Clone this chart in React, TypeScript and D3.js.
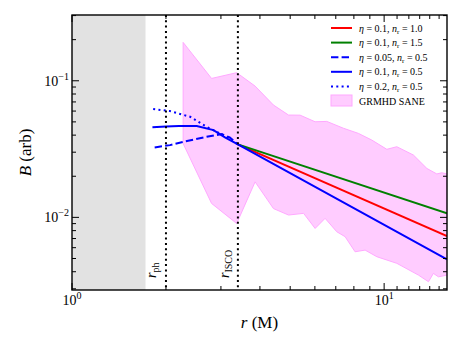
import * as d3 from "d3";

// --- data ---
const rPh = 2.0;
const rIsco = 3.4;
const rHorizonShade = 1.72;

// GRMHD SANE band (upper / lower envelopes)
const bandUpperR = [2.27, 2.8, 3.37, 3.86, 4.42, 4.94, 5.38, 6.01, 6.55, 7.41, 8.27, 9.13, 10.2, 10.98, 12.41, 13.71, 14.75, 15.3, 15.9];
const bandUpperB = [0.191, 0.104, 0.1146, 0.0914, 0.0664, 0.0561, 0.056, 0.0501, 0.0504, 0.0449, 0.0412, 0.0368, 0.0315, 0.0329, 0.0286, 0.0228, 0.0208, 0.0212, 0.0208];
const bandLowerR = [2.27, 2.8, 3.37, 3.86, 4.42, 4.94, 5.52, 6.01, 6.47, 7.05, 7.5, 8.07, 8.69, 9.48, 10.98, 12.88, 13.87, 14.38, 14.93, 15.9];
const bandLowerB = [0.0347, 0.01265, 0.00902, 0.0182, 0.0116, 0.0104, 0.0107, 0.0083, 0.00984, 0.00785, 0.00722, 0.0056, 0.00576, 0.00515, 0.00461, 0.00378, 0.00338, 0.00389, 0.00367, 0.00378];

// models
const redR = [3.4, 15.9];
const redB = [0.0342, 0.0073];
const greenR = [3.4, 15.9];
const greenB = [0.0342, 0.0107];
const blueR = [1.81, 2.0, 2.2, 2.51, 2.84, 3.09, 3.4, 15.9];
const blueB = [0.0456, 0.0462, 0.0466, 0.0466, 0.0435, 0.0385, 0.0342, 0.00493];
const dashR = [1.84, 2.06, 2.27, 2.7, 3.02, 3.2, 3.4];
const dashB = [0.0325, 0.0338, 0.0357, 0.0389, 0.0407, 0.0385, 0.0342];
const dotR = [1.82, 2.06, 2.39, 2.7, 3.09, 3.4];
const dotB = [0.0621, 0.06, 0.0545, 0.046, 0.0394, 0.0342];

const xMajor = [1, 10];
const xMinor = [2, 3, 4, 5, 6, 7, 8, 9, 11, 12, 13, 14, 15];
const yMajor = [0.01, 0.1];
const yMinor = [0.003, 0.004, 0.005, 0.006, 0.007, 0.008, 0.009, 0.02, 0.03, 0.04, 0.05, 0.06, 0.07, 0.08, 0.09, 0.2, 0.3];
const xTickLabels = ["0", "1"];
const yTickLabels = ["−2", "−1"];

const W = 463, H = 347;
const m = { left: 72, right: 16, top: 15, bottom: 57 };
const font = "'Liberation Serif', 'DejaVu Serif', serif";

export default function App() {
  const x = d3.scaleLog().domain([1, 15.9]).range([m.left, W - m.right]);
  const y = d3.scaleLog().domain([0.00294, 0.303]).range([H - m.bottom, m.top]);
  const x0 = m.left, x1 = W - m.right, y0 = m.top, y1 = H - m.bottom;

  const line = d3.line<[number, number]>().x(d => x(d[0])).y(d => y(d[1]));
  const zip = (a: number[], b: number[]) => a.map((v, i) => [v, b[i]] as [number, number]);

  const bandPts = [...zip(bandUpperR, bandUpperB), ...zip(bandLowerR, bandLowerB).reverse()];
  const bandPath = line(bandPts) + "Z";

  const series = [
    { r: redR, b: redB, color: "#ff0000", dash: "none" },
    { r: greenR, b: greenB, color: "#008000", dash: "none" },
    { r: dashR, b: dashB, color: "#0000ff", dash: "7.4,3.2" },
    { r: blueR, b: blueB, color: "#0000ff", dash: "none" },
    { r: dotR, b: dotB, color: "#0000ff", dash: "2,3.3" },
  ];

  const legend = [
    { eta: "0.1", n: "1.0", color: "#ff0000", dash: "none" },
    { eta: "0.1", n: "1.5", color: "#008000", dash: "none" },
    { eta: "0.05", n: "0.5", color: "#0000ff", dash: "7.4,3.2" },
    { eta: "0.1", n: "0.5", color: "#0000ff", dash: "none" },
    { eta: "0.2", n: "0.5", color: "#0000ff", dash: "2,3.3" },
  ];

  const clipId = "plotclip";

  return (
    <svg width={W} height={H} style={{ position: "absolute", left: 0, top: 0, background: "#fff" }} fontFamily={font}>
      <defs>
        <clipPath id={clipId}>
          <rect x={x0} y={y0} width={x1 - x0} height={y1 - y0} />
        </clipPath>
      </defs>
      <g clipPath={`url(#${clipId})`}>
        <rect x={x0} y={y0} width={x(rHorizonShade) - x0} height={y1 - y0} fill="#e2e2e2" />
        <path d={bandPath} fill="#ffccff" stroke="#ffa8ff" strokeWidth={1} />
        {series.map((s, i) => (
          <path key={i} d={line(zip(s.r, s.b)) || ""} fill="none" stroke={s.color} strokeWidth={2} strokeDasharray={s.dash} />
        ))}
        {[rPh, rIsco].map((r, i) => (
          <line key={i} x1={x(r)} x2={x(r)} y1={y0} y2={y1} stroke="#000" strokeWidth={2} strokeDasharray="2,3.3" />
        ))}
      </g>

      {/* vertical line labels */}
      <text transform={`translate(${x(rPh) - 10},278) rotate(-90)`} fontSize={14}>
        <tspan fontStyle="italic">r</tspan>
        <tspan fontSize={10} dy={3}>ph</tspan>
      </text>
      <text transform={`translate(${x(rIsco) - 9},278) rotate(-90)`} fontSize={14}>
        <tspan fontStyle="italic">r</tspan>
        <tspan fontSize={10} dy={3}>ISCO</tspan>
      </text>

      {/* ticks, inward on all four sides */}
      {xMajor.concat(xMinor).map((v, i) => {
        const len = xMajor.includes(v) ? 7 : 4;
        return (
          <g key={"xt" + i} stroke="#000" strokeWidth={1}>
            <line x1={x(v)} x2={x(v)} y1={y1} y2={y1 - len} />
            <line x1={x(v)} x2={x(v)} y1={y0} y2={y0 + len} />
          </g>
        );
      })}
      {yMajor.concat(yMinor).map((v, i) => {
        const len = yMajor.includes(v) ? 7 : 4;
        return (
          <g key={"yt" + i} stroke="#000" strokeWidth={1}>
            <line x1={x0} x2={x0 + len} y1={y(v)} y2={y(v)} />
            <line x1={x1} x2={x1 - len} y1={y(v)} y2={y(v)} />
          </g>
        );
      })}
      <rect x={x0} y={y0} width={x1 - x0} height={y1 - y0} fill="none" stroke="#000" strokeWidth={1.4} />

      {/* tick labels */}
      {xMajor.map((v, i) => (
        <text key={"xl" + i} x={x(v)} y={y1 + 15} textAnchor="middle" fontSize={14}>
          <tspan>10</tspan>
          <tspan fontSize={10} dy={-6}>{xTickLabels[i]}</tspan>
        </text>
      ))}
      {yMajor.map((v, i) => (
        <text key={"yl" + i} x={x0 - 3} y={y(v) + 5} textAnchor="end" fontSize={14}>
          <tspan>10</tspan>
          <tspan fontSize={10} dy={-6}>{yTickLabels[i]}</tspan>
        </text>
      ))}

      {/* axis labels */}
      <text x={(x0 + x1) / 2} y={328} textAnchor="middle" fontSize={17}>
        <tspan fontStyle="italic">r</tspan> (M)
      </text>
      <text transform={`translate(31,${(y0 + y1) / 2}) rotate(-90)`} textAnchor="middle" fontSize={17}>
        <tspan fontStyle="italic">B</tspan> (arb)
      </text>

      {/* legend */}
      {legend.map((l, i) => {
        const ly = 28 + i * 14.6;
        return (
          <g key={"lg" + i}>
            <line x1={331} x2={352} y1={ly} y2={ly} stroke={l.color} strokeWidth={2} strokeDasharray={l.dash} />
            <text x={359} y={ly + 3.5} fontSize={10}>
              <tspan fontStyle="italic">η</tspan> = {l.eta}, <tspan fontStyle="italic">n</tspan>
              <tspan fontSize={7} dy={2}>r</tspan>
              <tspan dy={-2}> = {l.n}</tspan>
            </text>
          </g>
        );
      })}
      <rect x={331} y={95} width={21} height={11} fill="#ffccff" stroke="#ffa8ff" strokeWidth={1} />
      <text x={359} y={104.5} fontSize={10}>GRMHD SANE</text>
    </svg>
  );
}
